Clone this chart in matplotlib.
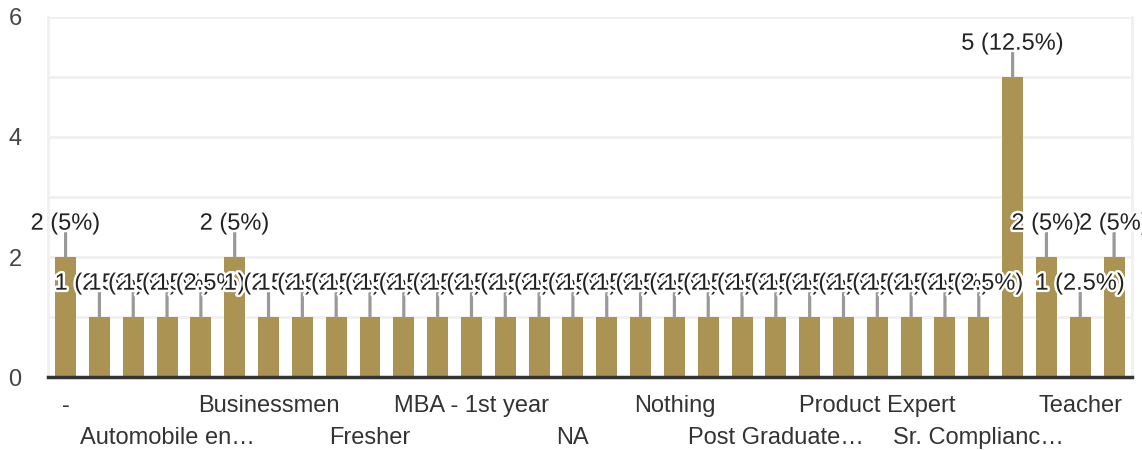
import matplotlib.pyplot as plt
import matplotlib.patheffects as pe
import numpy as np

# counts per answer (40 responses, alphabetical order)
counts = [2, 1, 1, 1, 1, 2, 1, 1, 1, 1, 1, 1, 1, 1, 1, 1,
          1, 1, 1, 1, 1, 1, 1, 1, 1, 1, 1, 1, 5, 2, 1, 2]
# only every third category name is shown on the axis
shown_labels = ['-', 'Automobile en…', 'Businessmen', 'Fresher', 'MBA - 1st year',
                'NA', 'Nothing', 'Post Graduate…', 'Product Expert',
                'Sr. Complianc…', 'Teacher']
total = 40

bar_color = '#AB9353'
plt.rcParams['font.family'] = ['Liberation Sans', 'DejaVu Sans']

fig = plt.figure(figsize=(11.42, 4.5), dpi=100)
ax = fig.add_axes([48 / 1142, 1 - 377 / 450, (1132 - 48) / 1142, 360 / 450])

x = np.arange(len(counts))
ax.bar(x, counts, width=0.62, color=bar_color, zorder=2)

ax.set_xlim(-0.52, len(counts) - 0.47)
ax.set_ylim(0, 6)
ax.set_yticks([0, 2, 4, 6])
ax.set_yticks(range(0, 7), minor=True)
ax.grid(axis='y', which='both', color='#f0f0f0', lw=2, zorder=0)
ax.tick_params(axis='y', which='both', length=0, pad=19, labelsize=17, labelcolor='#444444')

ax.spines['top'].set_visible(False)
for s in ['left', 'right']:
    ax.spines[s].set_color('#f0f0f0')
    ax.spines[s].set_linewidth(2)
ax.spines['bottom'].set_color('#333333')
ax.spines['bottom'].set_linewidth(2.5)
ax.spines['bottom'].set_zorder(3)

# value labels with leader lines
for i, v in enumerate(counts):
    pct = v / total * 100
    ax.annotate('', xy=(i, v), xytext=(0, 17.5), textcoords='offset points',
                arrowprops=dict(arrowstyle='-', color='#999999', lw=2.3,
                                shrinkA=0, shrinkB=0), zorder=4)
    ax.annotate('{} ({:g}%)'.format(v, pct), xy=(i, v), xytext=(0, 24),
                textcoords='offset points', ha='center', va='center',
                fontsize=17, color='#222222', zorder=5 + i,
                path_effects=[pe.withStroke(linewidth=3.5, foreground='white')],
                annotation_clip=False)

# staggered category labels
ticks = x[::3]
ax.set_xticks(ticks)
ax.set_xticklabels([])
ax.tick_params(axis='x', length=0)
for k, (t, lab) in enumerate(zip(ticks, shown_labels)):
    off = 29 if k % 2 == 0 else 61
    ax.annotate(lab, xy=(t, 0), xytext=(0, -off * 0.72), textcoords='offset points',
                ha='center', va='center', fontsize=17, color='#333333',
                annotation_clip=False)

fig.savefig('out.png', dpi=100)
